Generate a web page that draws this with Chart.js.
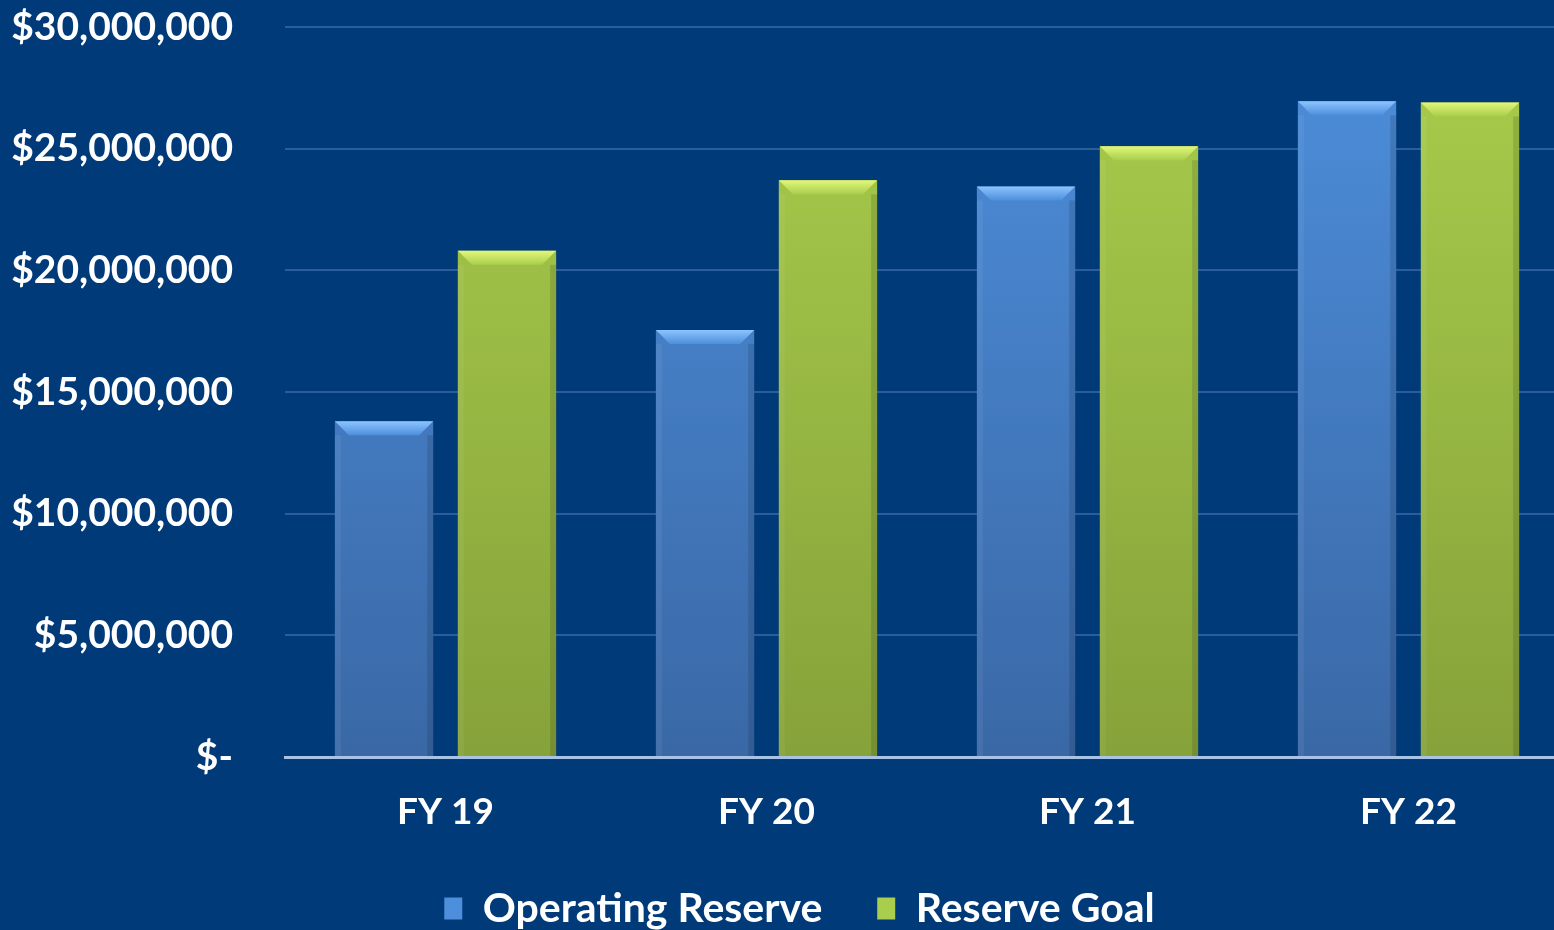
<!DOCTYPE html>
<html>
<head>
<meta charset="utf-8">
<script src="https://cdn.jsdelivr.net/npm/chart.js@4"></script>
<style>
  html, body { margin: 0; padding: 0; background: #003a78; overflow: hidden; }
  #wrap { width: 1569px; height: 930px; }
</style>
</head>
<body>
<div id="wrap"><canvas id="myChart"></canvas></div>
<script>
// DATA
var years = ['FY 19', 'FY 20', 'FY 21', 'FY 22'];
var operatingReserve = [13800000, 17550000, 23450000, 26950000];
var reserveGoal = [20800000, 23700000, 25100000, 26900000];
var seriesNames = ['Operating Reserve', 'Reserve Goal'];

// colours: [top, bottom, bevel highlight]
var blueCols = ['#4d8fdc', '#3a68a6', '#8cc4ff'];
var greenCols = ['#a9cd4c', '#86a23a', '#e2f77a'];

function barGradient(cols) {
    return function (context) {
        var chart = context.chart;
        var area = chart.chartArea;
        if (!area) return cols[0];
        var g = chart.ctx.createLinearGradient(0, area.top, 0, area.bottom);
        g.addColorStop(0, cols[0]);
        g.addColorStop(1, cols[1]);
        return g;
    };
}

// bevel on top of each bar, like the office chart
var bevelPlugin = {
    id: 'bevel',
    afterDatasetsDraw: function (chart) {
        var ctx = chart.ctx;
        chart.data.datasets.forEach(function (ds, i) {
            var meta = chart.getDatasetMeta(i);
            var cols = i == 0 ? blueCols : greenCols;
            meta.data.forEach(function (bar) {
                var left = bar.x - bar.width / 2;
                var right = bar.x + bar.width / 2;
                var top = bar.y;
                var h = 14;
                ctx.save();
                var g = ctx.createLinearGradient(0, top, 0, top + h);
                g.addColorStop(0, cols[2]);
                g.addColorStop(1, cols[0]);
                ctx.fillStyle = g;
                ctx.beginPath();
                ctx.moveTo(left, top);
                ctx.lineTo(right, top);
                ctx.lineTo(right - h, top + h);
                ctx.lineTo(left + h, top + h);
                ctx.closePath();
                ctx.fill();
                ctx.fillStyle = 'rgba(0,0,0,0.12)';
                ctx.fillRect(right - 6, top + h, 6, bar.base - top - h);
                ctx.fillStyle = 'rgba(255,255,255,0.06)';
                ctx.fillRect(left, top + h, 6, bar.base - top - h);
                ctx.restore();
            });
        });
    }
};

// legend sits a little right of the canvas centre in the original
var legendShift = {
    id: 'legendShift',
    afterLayout: function (chart) {
        chart.legend.left += 15;
        chart.legend.right += 15;
    }
};

var ctx = document.getElementById('myChart').getContext('2d');
var chart = new Chart(ctx, {
    type: 'bar',
    data: {
        labels: years,
        datasets: [{
            label: seriesNames[0],
            backgroundColor: barGradient(blueCols),
            data: operatingReserve
        }, {
            label: seriesNames[1],
            backgroundColor: barGradient(greenCols),
            data: reserveGoal
        }]
    },
    options: {
        responsive: true,
        maintainAspectRatio: false,
        animation: false,
        categoryPercentage: 0.766,
        barPercentage: 0.8,
        layout: { padding: { top: 0, left: 0, right: 0, bottom: -9 } },
        plugins: {
            tooltip: { enabled: false },
            legend: {
                position: 'bottom',
                labels: {
                    color: '#ffffff',
                    font: { family: 'Lato', weight: 'bold', size: 41 },
                    boxWidth: 18,
                    boxHeight: 22,
                    padding: 15,
                    generateLabels: function (chart) {
                        return seriesNames.map(function (n, i) {
                            var c = i == 0 ? blueCols : greenCols;
                            // trailing spaces keep the wide gap between the two entries
                            var t = i < seriesNames.length - 1 ? n + '    ' : n;
                            return { text: t, fillStyle: c[0], strokeStyle: c[0], lineWidth: 0, fontColor: '#ffffff', datasetIndex: i };
                        });
                    }
                }
            }
        },
        scales: {
            x: {
                grid: { display: false },
                border: { color: '#a9c3e6', width: 3 },
                afterFit: function (scale) { scale.height = 116; },
                ticks: {
                    color: '#ffffff',
                    padding: 25,
                    font: { family: 'Lato', weight: 'bold', size: 37 }
                }
            },
            y: {
                min: 0,
                max: 30000000,
                grid: { color: '#2b5d9c', lineWidth: 2, drawTicks: false },
                border: { display: false },
                afterFit: function (scale) {
                    scale.width = 285;
                    scale.paddingTop = 27;
                    scale.paddingBottom = 0;
                },
                ticks: {
                    stepSize: 5000000,
                    color: '#ffffff',
                    padding: 52,
                    font: { family: 'Lato', weight: 'bold', size: 39 },
                    callback: function (v) {
                        if (v == 0) return '$-';
                        return '$' + v.toLocaleString('en-US');
                    }
                }
            }
        }
    },
    plugins: [bevelPlugin, legendShift]
});
</script>
</body>
</html>
